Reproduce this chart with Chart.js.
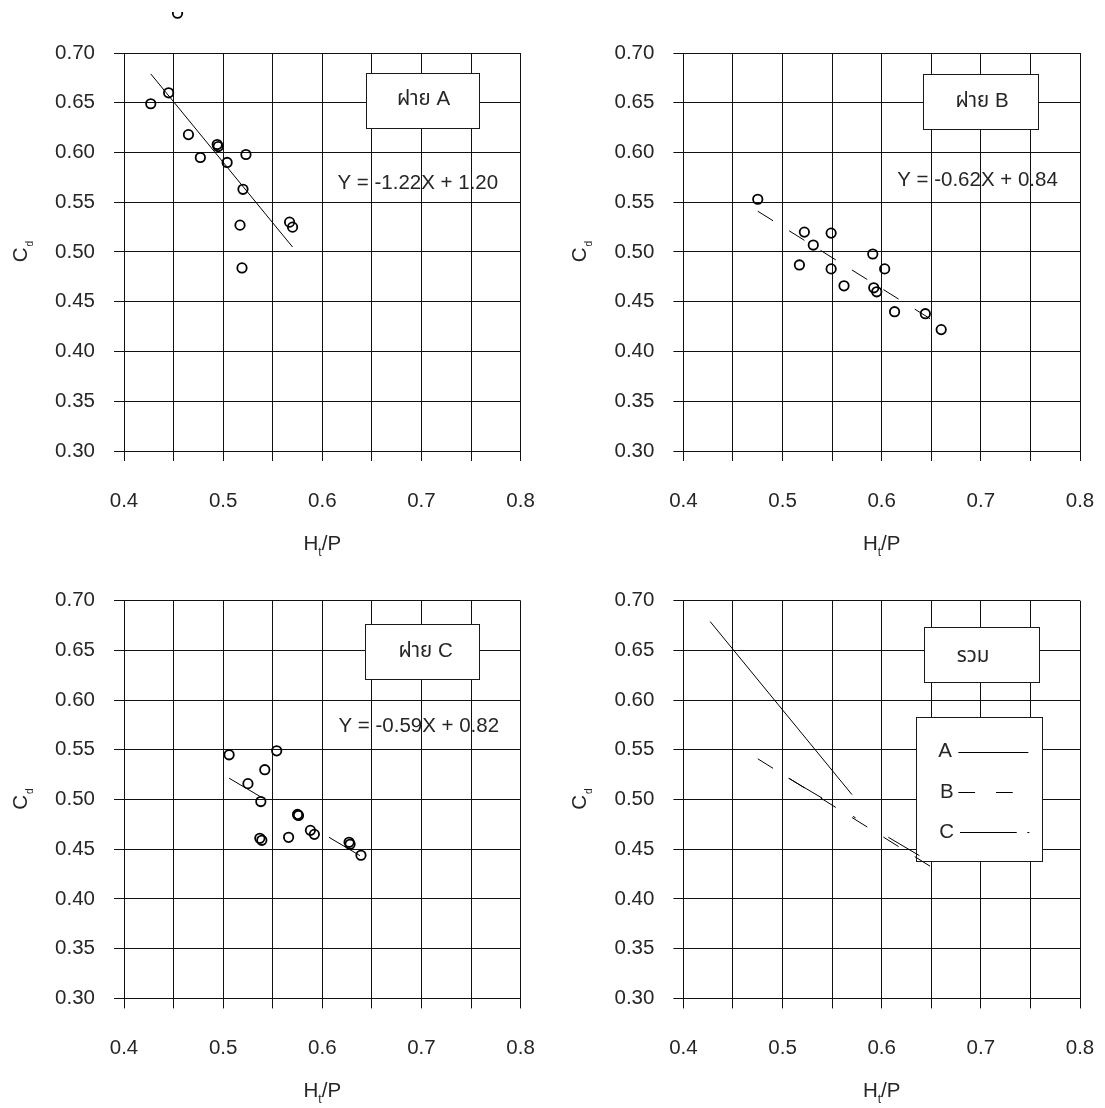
<!DOCTYPE html>
<html>
<head>
<meta charset="utf-8">
<script src="https://cdn.jsdelivr.net/npm/chart.js@4.4.1/dist/chart.umd.min.js"></script>
<style>
  html, body { margin: 0; padding: 0; background: #fff; }
  #page { position: relative; width: 1105px; height: 1108px; overflow: hidden; }
  canvas { position: absolute; }
</style>
</head>
<body>
<div id="page">
  <canvas id="chartA" width="560" height="548" style="left:0;top:12px"></canvas>
  <canvas id="chartB" width="545" height="550" style="left:560px;top:10px"></canvas>
  <canvas id="chartC" width="560" height="548" style="left:0;top:560px"></canvas>
  <canvas id="chartD" width="545" height="548" style="left:560px;top:560px"></canvas>
</div>
<script>
// tick labels
const xTickLabels = ['0.4', '0.5', '0.6', '0.7', '0.8'];
const yTickLabels = ['0.30', '0.35', '0.40', '0.45', '0.50', '0.55', '0.60', '0.65', '0.70'];

// measured points, H_t/P vs C_d
const weirA_x = [0.427, 0.445, 0.465, 0.477, 0.494, 0.495, 0.504, 0.523, 0.520, 0.517, 0.519, 0.567, 0.570, 0.454];
const weirA_y = [0.649, 0.660, 0.618, 0.595, 0.608, 0.606, 0.590, 0.598, 0.563, 0.527, 0.484, 0.530, 0.525, 0.740];

const weirB_x = [0.475, 0.522, 0.549, 0.531, 0.517, 0.549, 0.562, 0.591, 0.603, 0.592, 0.595, 0.613, 0.644, 0.660];
const weirB_y = [0.553, 0.520, 0.519, 0.507, 0.487, 0.483, 0.466, 0.498, 0.483, 0.464, 0.460, 0.440, 0.438, 0.422];

const weirC_x = [0.506, 0.554, 0.542, 0.525, 0.538, 0.575, 0.576, 0.588, 0.592, 0.566, 0.537, 0.539, 0.627, 0.628, 0.639];
const weirC_y = [0.545, 0.549, 0.530, 0.516, 0.498, 0.485, 0.484, 0.469, 0.465, 0.462, 0.461, 0.459, 0.457, 0.455, 0.444];

// regression lines (end points)
const lineA_x = [0.427, 0.570];
const lineA_y = [0.679, 0.505];
const lineB_x = [0.475, 0.660];
const lineB_y = [0.541, 0.426];
const lineC_x = [0.506, 0.638];
const lineC_y = [0.5215, 0.4436];

// texts
const weirLabels = ['ฝาย A', 'ฝาย B', 'ฝาย C', 'รวม'];
const equations = ['Y = -1.22X + 1.20', 'Y = -0.62X + 0.84', 'Y = -0.59X + 0.82'];
const legendNames = ['A', 'B', 'C'];

// styles
const FONT = '"Liberation Sans", Arial, "Noto Sans Thai", sans-serif';
const TEXT = '#262626';
const FS = 20.5;
const dashA = [];
const dashB = [18, 19];
const dashC = [39, 36, 3, 38];

function toXY(xs, ys) {
    return xs.map((x, i) => ({ x: x, y: ys[i] }));
}

function pointSet(xs, ys) {
    return {
        data: toXY(xs, ys),
        showLine: false,
        pointStyle: 'circle',
        pointRadius: 4.7,
        pointHoverRadius: 4.7,
        pointBorderWidth: 1.8,
        pointBorderColor: '#000',
        pointBackgroundColor: 'rgba(0,0,0,0)',
        clip: false
    };
}

function fitLine(xs, ys, dash) {
    return {
        data: toXY(xs, ys),
        showLine: true,
        pointRadius: 0,
        borderColor: '#000',
        borderWidth: 1,
        borderDash: dash,
        fill: false,
        clip: false
    };
}

function tickText(list, v) {
    const hit = list.find(t => Math.abs(parseFloat(t) - v) < 1e-6);
    return hit === undefined ? '' : hit;
}

// axis titles with subscripts
function drawXTitle(ctx, area) {
    const cx = (area.left + area.right) / 2;
    const by = area.bottom + 99;
    const big = FS + 'px ' + FONT, small = '12px ' + FONT;
    ctx.font = big;
    const wH = ctx.measureText('H').width, wP = ctx.measureText('/P').width;
    ctx.font = small;
    const wt = ctx.measureText('t').width;
    let x = cx - (wH + wt + wP) / 2;
    ctx.fillStyle = TEXT;
    ctx.textAlign = 'left';
    ctx.textBaseline = 'alphabetic';
    ctx.font = big; ctx.fillText('H', x, by); x += wH;
    ctx.font = small; ctx.fillText('t', x, by + 6); x += wt;
    ctx.font = big; ctx.fillText('/P', x, by);
}

function drawYTitle(ctx, area) {
    const cy = (area.top + area.bottom) / 2;
    const bx = area.left - 97.3;
    const big = FS + 'px ' + FONT, small = '10px ' + FONT;
    ctx.save();
    ctx.translate(bx, cy);
    ctx.rotate(-Math.PI / 2);
    ctx.font = big;
    const wC = ctx.measureText('C').width;
    ctx.font = small;
    const wd = ctx.measureText('d').width;
    let x = -(wC + wd) / 2;
    ctx.fillStyle = TEXT;
    ctx.textAlign = 'left';
    ctx.textBaseline = 'alphabetic';
    ctx.font = big; ctx.fillText('C', x, 0); x += wC + 1;
    ctx.font = small; ctx.fillText('d', x, 6);
    ctx.restore();
}

const decorPlugin = {
    id: 'decor',
    beforeDatasetsDraw(chart, args, opts) {
        const ctx = chart.ctx;
        const sx = v => chart.scales.x.getPixelForValue(v);
        const sy = v => chart.scales.y.getPixelForValue(v);
        ctx.save();
        ctx.font = FS + 'px ' + FONT;
        ctx.textBaseline = 'middle';

        (opts.boxes || []).forEach(b => {
            const x0 = Math.round(sx(b.x0)) + 0.5, x1 = Math.round(sx(b.x1)) + 0.5;
            const y0 = Math.round(sy(b.y0)) + 0.5, y1 = Math.round(sy(b.y1)) + 0.5;
            ctx.fillStyle = '#fff';
            ctx.fillRect(x0, y0, x1 - x0, y1 - y0);
            ctx.strokeStyle = '#1a1a1a';
            ctx.lineWidth = 1;
            ctx.strokeRect(x0, y0, x1 - x0, y1 - y0);
        });

        ctx.fillStyle = TEXT;
        (opts.texts || []).forEach(t => {
            ctx.textAlign = 'center';
            ctx.fillText(t.text, sx(t.x), sy(t.y));
        });

        (opts.keys || []).forEach(k => {
            ctx.textAlign = 'left';
            ctx.fillStyle = TEXT;
            ctx.fillText(k.text, sx(k.tx), sy(k.y));
            ctx.beginPath();
            ctx.setLineDash(k.dash);
            ctx.strokeStyle = '#000';
            ctx.lineWidth = 1;
            const yy = Math.round(sy(k.y)) + 0.5;
            ctx.moveTo(sx(k.x0), yy);
            ctx.lineTo(sx(k.x1), yy);
            ctx.stroke();
            ctx.setLineDash([]);
        });
        ctx.restore();
    },
    afterDatasetsDraw(chart) {
        // points above the plot frame are skipped by the library, draw them here
        const ctx = chart.ctx;
        const area = chart.chartArea;
        chart.data.datasets.forEach((ds, i) => {
            if (ds.showLine) return;
            chart.getDatasetMeta(i).data.forEach(el => {
                if (el.y >= area.top - 1) return;
                const o = el.options;
                ctx.save();
                ctx.strokeStyle = o.borderColor;
                ctx.lineWidth = o.borderWidth;
                ctx.fillStyle = o.backgroundColor;
                Chart.helpers.drawPoint(ctx, o, el.x, el.y);
                ctx.restore();
            });
        });
    },
    afterDraw(chart) {
        const ctx = chart.ctx;
        ctx.save();
        drawXTitle(ctx, chart.chartArea);
        drawYTitle(ctx, chart.chartArea);
        ctx.restore();
    }
};

function makeChart(id, datasets, area, decor) {
    const canvas = document.getElementById(id);
    return new Chart(canvas, {
        type: 'scatter',
        data: { datasets: datasets },
        options: {
            responsive: false,
            animation: false,
            devicePixelRatio: 1,
            events: [],
            layout: { padding: { left: 0, top: area.top, right: canvas.width - area.right, bottom: 0 } },
            plugins: { legend: { display: false }, tooltip: { enabled: false }, decor: decor },
            scales: {
                x: {
                    type: 'linear', min: 0.4, max: 0.8,
                    afterFit: s => {
                        s.height = canvas.height - area.bottom;
                        s.paddingLeft = 0;
                        s.paddingRight = 0;
                    },
                    ticks: {
                        stepSize: 0.05, autoSkip: false, maxRotation: 0, padding: 28,
                        color: TEXT, font: { family: FONT, size: FS },
                        callback: v => tickText(xTickLabels, v)
                    },
                    grid: { color: '#111', lineWidth: 1, tickLength: 10 },
                    border: { color: '#111', width: 1 }
                },
                y: {
                    type: 'linear', min: 0.3, max: 0.7,
                    afterFit: s => {
                        s.width = area.left;
                        s.paddingTop = 0;
                        s.paddingBottom = 0;
                    },
                    ticks: {
                        stepSize: 0.05, autoSkip: false, padding: 19,
                        color: TEXT, font: { family: FONT, size: FS },
                        callback: v => tickText(yTickLabels, v)
                    },
                    grid: { color: '#111', lineWidth: 1, tickLength: 10 },
                    border: { color: '#111', width: 1 }
                }
            }
        },
        plugins: [decorPlugin]
    });
}

makeChart('chartA',
    [pointSet(weirA_x, weirA_y), fitLine(lineA_x, lineA_y, dashA)],
    { left: 124, right: 520.6, top: 41, bottom: 439 },
    {
        boxes: [{ x0: 0.6436, x1: 0.758, y0: 0.6803, y1: 0.625 }],
        texts: [
            { text: weirLabels[0], x: 0.7021, y: 0.6533 },
            { text: equations[0], x: 0.6963, y: 0.5693 }
        ]
    });

makeChart('chartB',
    [pointSet(weirB_x, weirB_y), fitLine(lineB_x, lineB_y, dashB)],
    { left: 123.4, right: 520, top: 43, bottom: 441 },
    {
        boxes: [{ x0: 0.6415, x1: 0.7572, y0: 0.6787, y1: 0.6241 }],
        texts: [
            { text: weirLabels[1], x: 0.7012, y: 0.6515 },
            { text: equations[1], x: 0.6966, y: 0.5724 }
        ]
    });

makeChart('chartC',
    [pointSet(weirC_x, weirC_y), fitLine(lineC_x, lineC_y, dashC)],
    { left: 124, right: 520.6, top: 40.7, bottom: 438.4 },
    {
        boxes: [{ x0: 0.6429, x1: 0.7584, y0: 0.6764, y1: 0.6215 }],
        texts: [
            { text: weirLabels[2], x: 0.7042, y: 0.6486 },
            { text: equations[2], x: 0.6973, y: 0.5733 }
        ]
    });

makeChart('chartD',
    [fitLine(lineA_x, lineA_y, dashA), fitLine(lineB_x, lineB_y, dashB), fitLine(lineC_x, lineC_y, dashC)],
    { left: 123.4, right: 520, top: 40.7, bottom: 438.4 },
    {
        boxes: [
            { x0: 0.643, x1: 0.7583, y0: 0.6732, y1: 0.6185 },
            { x0: 0.6346, x1: 0.7614, y0: 0.583, y1: 0.4385 }
        ],
        texts: [{ text: weirLabels[3], x: 0.6921, y: 0.6437 }],
        keys: [
            { text: legendNames[0], tx: 0.6571, y: 0.5483, x0: 0.6773, x1: 0.7479, dash: dashA },
            { text: legendNames[1], tx: 0.6588, y: 0.5076, x0: 0.6773, x1: 0.7345, dash: [16.7, 21] },
            { text: legendNames[2], tx: 0.6581, y: 0.4669, x0: 0.679, x1: 0.7496, dash: [56.7, 10.6, 2, 20] }
        ]
    });
</script>
</body>
</html>
